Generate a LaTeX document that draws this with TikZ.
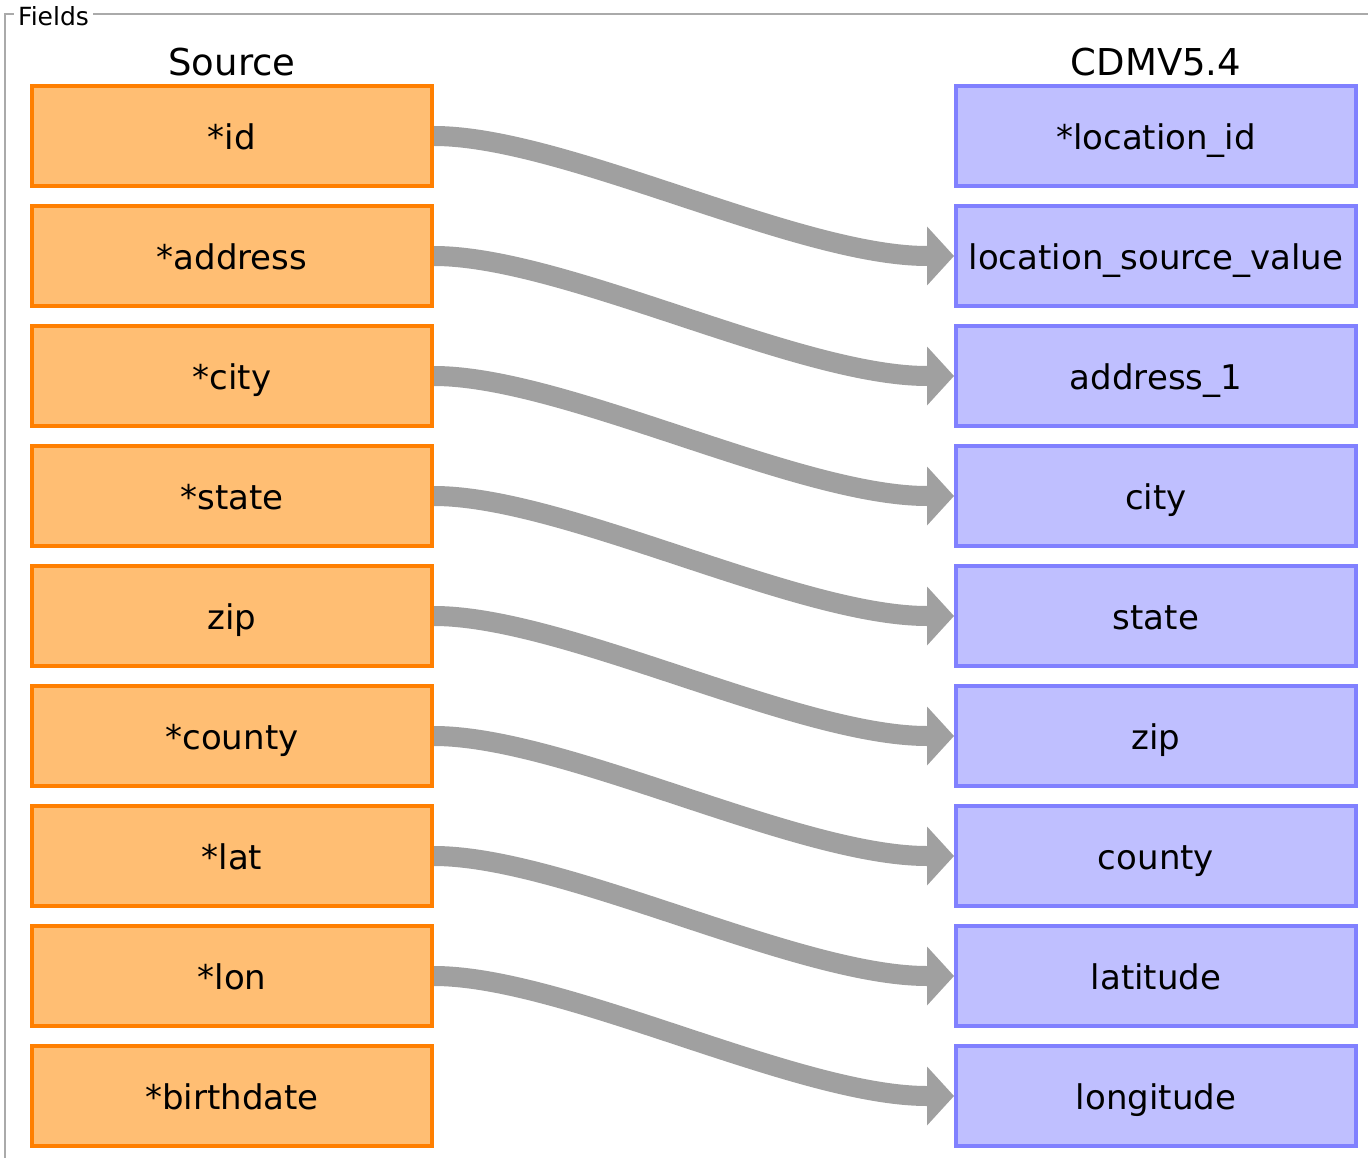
\documentclass[tikz,border=0pt]{standalone}
\usepackage{fontspec}
\setmainfont{DejaVu Sans}
\usetikzlibrary{arrows.meta,backgrounds}
\definecolor{srcfill}{HTML}{FFBE73}
\definecolor{srcline}{HTML}{FF7F00}
\definecolor{tgtfill}{HTML}{BFBFFF}
\definecolor{tgtline}{HTML}{8080FF}
\definecolor{arrowgray}{HTML}{A0A0A0}
\definecolor{framegray}{HTML}{AAAAAA}
\tikzset{
  fieldbox/.style={draw, line width=4pt, minimum width=400pt, minimum height=100pt,
    text height=27pt, text depth=0pt, inner sep=0pt,
    font=\fontsize{34}{40}\selectfont},
  srcbox/.style={fieldbox, fill=srcfill, draw=srcline},
  tgtbox/.style={fieldbox, fill=tgtfill, draw=tgtline},
  header/.style={anchor=base, inner sep=0pt, font=\fontsize{37}{44}\selectfont},
  conn/.style={draw=arrowgray, line width=20pt,
    -{Triangle[length=27pt,width=59pt,line width=0pt]}},
  framel/.style={draw=framegray, line width=1.5pt},
}
\begin{document}
\begin{tikzpicture}[x=1pt,y=-1pt]
\useasboundingbox (0,0) rectangle (1368,1158);
\draw[framel] (5,1160) -- (5,14) -- (1368,14);
\node[anchor=base west, fill=white, inner xsep=4pt, inner ysep=2pt,
  font=\fontsize{25}{30}\selectfont] (fields) at (14,26) {Fields};
\node[header] (hsrc) at (232,76) {Source};
\node[header] (htgt) at (1156,76) {CDMV5.4};
\node[srcbox] (s1) at (232,136) {*id};
\node[srcbox] (s2) at (232,256) {*address};
\node[srcbox] (s3) at (232,376) {*city};
\node[srcbox] (s4) at (232,496) {*state};
\node[srcbox] (s5) at (232,616) {zip};
\node[srcbox] (s6) at (232,736) {*county};
\node[srcbox] (s7) at (232,856) {*lat};
\node[srcbox] (s8) at (232,976) {*lon};
\node[srcbox] (s9) at (232,1096) {*birthdate};
\node[tgtbox] (t1) at (1156,136) {*location\_id};
\node[tgtbox] (t2) at (1156,256) {location\_source\_value};
\node[tgtbox] (t3) at (1156,376) {address\_1};
\node[tgtbox] (t4) at (1156,496) {city};
\node[tgtbox] (t5) at (1156,616) {state};
\node[tgtbox] (t6) at (1156,736) {zip};
\node[tgtbox] (t7) at (1156,856) {county};
\node[tgtbox] (t8) at (1156,976) {latitude};
\node[tgtbox] (t9) at (1156,1096) {longitude};
\begin{scope}[on background layer]
\foreach \a/\b in {s1/t2,s2/t3,s3/t4,s4/t5,s5/t6,s6/t7,s7/t8,s8/t9}
  \draw[conn] (\a.east) .. controls +(130,0) and +(-157,0) .. (\b.west);
\end{scope}
\end{tikzpicture}
\end{document}
